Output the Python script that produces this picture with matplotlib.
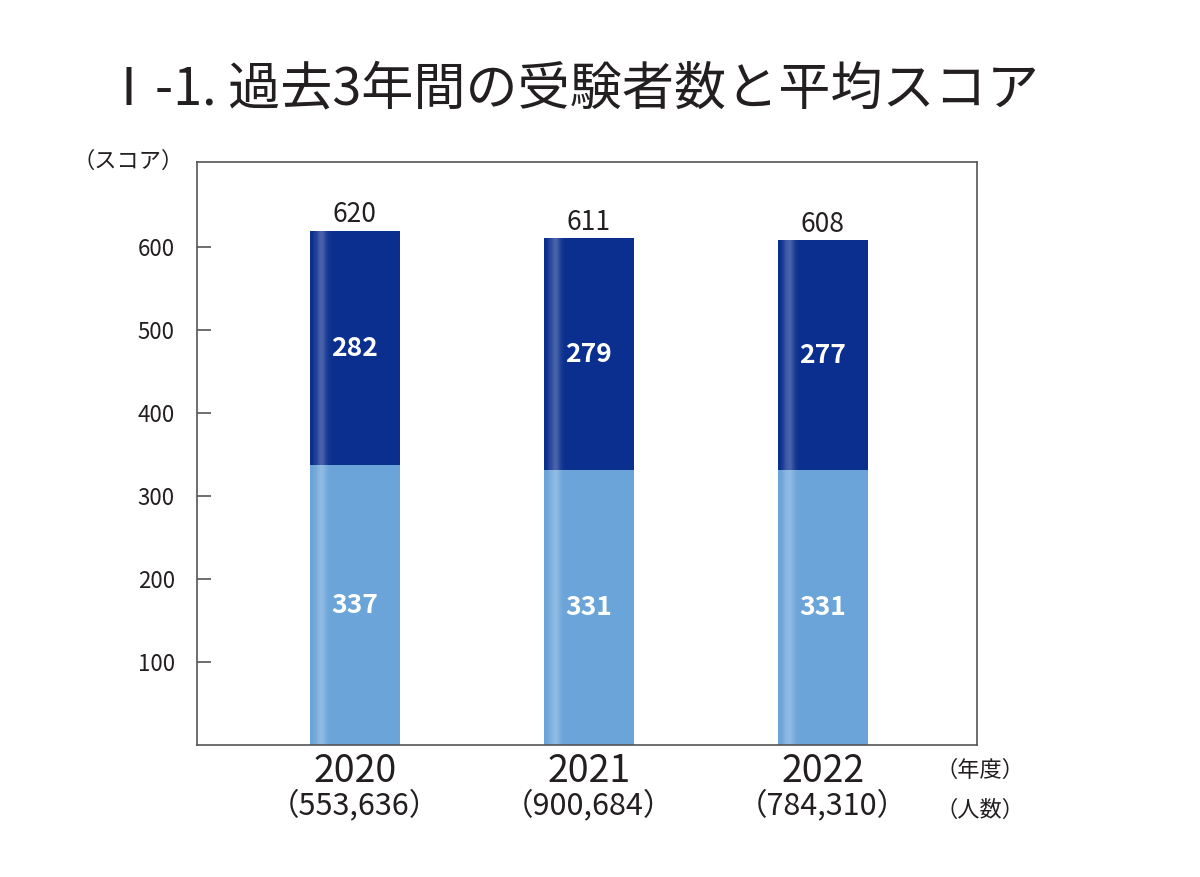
import matplotlib
matplotlib.use("Agg")
import matplotlib.pyplot as plt
import numpy as np

plt.rcParams['font.family'] = ['Noto Sans CJK JP', 'DejaVu Sans']

# data
years = ['2020', '2021', '2022']
examinees = ['553,636', '900,684', '784,310']
lower = [337, 331, 331]
upper = [282, 279, 277]
totals = [620, 611, 608]
yticks = [100, 200, 300, 400, 500, 600]

dark = '#0B2F8E'
light = '#6BA4D9'
txt = '#231F20'

fig = plt.figure(figsize=(12, 8.77), dpi=100)
ax = fig.add_axes([197 / 1200, 1 - 745 / 877, 780 / 1200, 583 / 877])

x = np.arange(len(years))
w = 0.385
ax.bar(x, lower, width=w, color=light, edgecolor='none')
ax.bar(x, upper, width=w, bottom=lower, color=dark, edgecolor='none')

# soft sheen near the left edge of each bar
for xi, lo, up in zip(x, lower, upper):
    tot = lo + up
    n = 24
    step = 0.11 / n
    for k in range(n):
        off = -w / 2 + 0.015 + k * step
        t = k / (n - 1)
        a = 0.25 * np.exp(-((t - 0.3) / 0.22) ** 2)
        ax.bar(xi + off, tot, width=step, color='white', alpha=a,
               edgecolor='none', align='edge')

for xi, lo, up, tot in zip(x, lower, upper, totals):
    ax.text(xi, lo / 2, str(lo), ha='center', va='center', color='white',
            fontsize=19, fontweight='bold')
    ax.text(xi, lo + up / 2, str(up), ha='center', va='center', color='white',
            fontsize=19, fontweight='bold')
    ax.text(xi, lo + up + 3, str(tot), ha='center', va='bottom', color=txt,
            fontsize=19)

ax.set_xlim(-0.675, 2.66)
ax.set_ylim(0, 702)
ax.set_yticks(yticks)
ax.set_yticklabels([str(v) for v in yticks], fontsize=16, color=txt)
ax.tick_params(axis='y', direction='in', length=10, width=1.2, color='#555555', pad=16)
ax.set_xticks([])
for s in ax.spines.values():
    s.set_color('#555555')
    s.set_linewidth(1.2)

for xi, yr, n in zip(x, years, examinees):
    ax.text(xi, -8, yr, ha='center', va='top',
            fontsize=27, color=txt, clip_on=False)
    ax.text(xi, -53, '（' + n + '）', ha='center', va='top',
            fontsize=22, color=txt, clip_on=False)

fig.text(980 / 1200, 1 - 770 / 877, '（年度）', ha='center', va='center', fontsize=16, color=txt)
fig.text(980 / 1200, 1 - 810 / 877, '（人数）', ha='center', va='center', fontsize=16, color=txt)
fig.text(128 / 1200, 1 - 161 / 877, '（スコア）', ha='center', va='center', fontsize=16, color=txt)

fig.text(103 / 1200, 1 - 90 / 877, 'Ⅰ-1. 過去3年間の受験者数と平均スコア', ha='left',
         va='center', fontsize=37.5, color=txt)

fig.savefig('out.png', dpi=100, facecolor='white')
